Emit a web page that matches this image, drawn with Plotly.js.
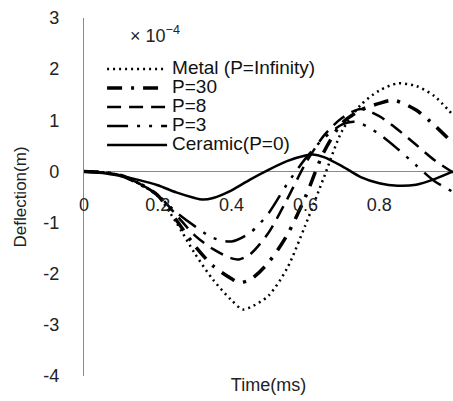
<!DOCTYPE html>
<html>
<head>
<meta charset="utf-8">
<script src="https://cdn.plot.ly/plotly-3.0.1.min.js"></script>
<style>html,body{margin:0;padding:0;background:#fff;}#chart{width:453px;height:401px;}</style>
</head>
<body>
<div id="chart"></div>
<script>
// Time (ms) and deflection (x 1e-4 m)
const tMetal = [0,0.05,0.1,0.15,0.2,0.25,0.3,0.35,0.4,0.43,0.45,0.5,0.55,0.6,0.65,0.7,0.75,0.8,0.85,0.9,0.95,1];
const metal  = [0,-0.02,-0.08,-0.24,-0.48,-1.0,-1.6,-2.12,-2.52,-2.7,-2.66,-2.43,-1.9,-1.05,-0.12,0.8,1.3,1.58,1.72,1.67,1.47,1.1];

const tP30 = [0,0.05,0.1,0.15,0.2,0.25,0.3,0.35,0.4,0.42,0.45,0.5,0.55,0.6,0.65,0.7,0.75,0.8,0.84,0.9,0.95,1];
const p30  = [0,-0.02,-0.08,-0.24,-0.47,-0.95,-1.45,-1.85,-2.1,-2.17,-2.12,-1.78,-1.25,-0.5,0.38,0.95,1.2,1.33,1.39,1.2,0.9,0.55];

const tP8 = [0,0.05,0.1,0.15,0.2,0.25,0.3,0.35,0.4,0.42,0.45,0.5,0.55,0.6,0.65,0.7,0.75,0.8,0.85,0.9,0.95,1];
const p8  = [0,-0.02,-0.08,-0.24,-0.46,-0.85,-1.25,-1.52,-1.7,-1.72,-1.62,-1.2,-0.55,0.15,0.7,1.05,1.22,1.08,0.82,0.52,0.22,-0.02];

const tP3 = [0,0.05,0.1,0.15,0.2,0.25,0.3,0.35,0.4,0.45,0.5,0.55,0.6,0.65,0.7,0.73,0.75,0.8,0.85,0.9,0.95,1];
const p3  = [0,-0.02,-0.08,-0.24,-0.46,-0.8,-1.07,-1.3,-1.37,-1.2,-0.82,-0.25,0.25,0.65,0.92,0.97,0.94,0.73,0.44,0.12,-0.19,-0.4];

const tCer = [0,0.05,0.1,0.15,0.2,0.25,0.3,0.32,0.35,0.4,0.45,0.5,0.55,0.6,0.62,0.65,0.7,0.75,0.8,0.85,0.9,0.95,1];
const cer  = [0,-0.03,-0.09,-0.17,-0.27,-0.41,-0.52,-0.55,-0.52,-0.37,-0.16,0.03,0.2,0.31,0.33,0.28,0.1,-0.11,-0.23,-0.28,-0.26,-0.15,0];

const seriesNames = ['Metal (P=Infinity)','P=30','P=8','P=3','Ceramic(P=0)'];
const xTickVals = [0,0.2,0.4,0.6,0.8,1];
const xTickText = ['0','0.2','0.4','0.6','0.8','1'];
const yTickVals = [-4,-3,-2,-1,0,1,2,3];
const yTickText = ['-4','-3','-2','-1','0','1','2','3'];

const xs = [tMetal,tP30,tP8,tP3,tCer];
const ys = [metal,p30,p8,p3,cer];
const dashes = ['2px,4px','15px,9px,3px,9px','14px,8px','21px,9px,3px,9px,3px,9px','solid'];
const widths = [2.5,3.5,2.5,2.5,2.5];

const traces = xs.map((x,i)=>({
  x:x, y:ys[i], type:'scatter', mode:'lines',
  name:'<span style="font-size:19px">'+seriesNames[i]+'</span>',
  line:{color:'#000', width:widths[i], dash:dashes[i], shape:'spline', smoothing:0.8}
}));

const font = 'Liberation Sans, Arial, sans-serif';
const layout = {
  width:453, height:401,
  margin:{l:84, r:0, t:18, b:25},
  paper_bgcolor:'#fff', plot_bgcolor:'#fff',
  font:{family:font, color:'#222', size:16},
  showlegend:true,
  legend:{x:0.049, y:0.898, xanchor:'left', yanchor:'top', bgcolor:'rgba(0,0,0,0)',
          borderwidth:0, itemwidth:60, font:{size:12, family:font, color:'#111'}},
  xaxis:{range:[0,1], anchor:'free', position:0.514, showline:false, zeroline:false,
         showgrid:false, tickvals:xTickVals, ticktext:xTickText, ticks:'',
         tickfont:{size:18, family:font, color:'#222'},
         title:{text:'Time(ms)', standoff:164, font:{size:18, family:font, color:'#222'}}},
  yaxis:{range:[-4,3], showline:true, linecolor:'#8a8a8a', linewidth:1.2,
         zeroline:true, zerolinecolor:'#8a8a8a', zerolinewidth:1.2, showgrid:false,
         tickvals:yTickVals, ticktext:yTickText, ticks:'outside', ticklen:20,
         tickcolor:'rgba(0,0,0,0)', tickfont:{size:18, family:font, color:'#222'},
         title:{text:'Deflection(m)', standoff:12, font:{size:17, family:font, color:'#222'}}},
  annotations:[{xref:'paper', yref:'paper', x:0.119, y:0.955, xanchor:'left', yanchor:'middle',
    showarrow:false, text:'× 10<sup>−4</sup>', font:{size:18, family:font, color:'#222'}}]
};
Plotly.newPlot('chart', traces, layout, {displayModeBar:false, staticPlot:true});
</script>
</body>
</html>
